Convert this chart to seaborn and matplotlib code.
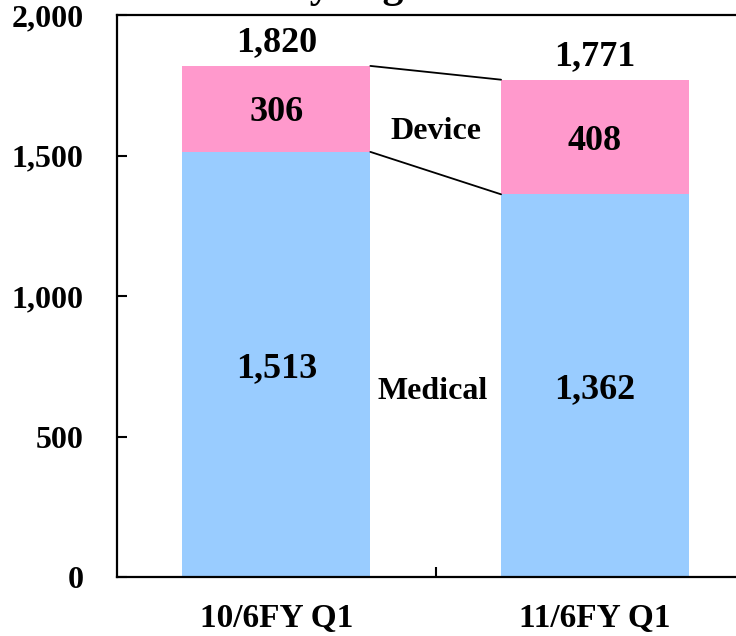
import matplotlib
matplotlib.use("Agg")
import matplotlib.pyplot as plt
import seaborn as sns
import pandas as pd

periods = ["10/6FY Q1", "11/6FY Q1"]
medical = [1513, 1362]
device = [306, 408]
totals = [1820, 1771]
yticks = [0, 500, 1000, 1500, 2000]

sns.set_style("ticks")
plt.rcParams["font.family"] = ["Liberation Serif", "DejaVu Serif"]
plt.rcParams["font.weight"] = "bold"
plt.rcParams["text.color"] = "black"
plt.rcParams["xtick.color"] = "black"
plt.rcParams["ytick.color"] = "black"
plt.rcParams["xtick.labelcolor"] = "black"
plt.rcParams["ytick.labelcolor"] = "black"

df = pd.DataFrame({"period": periods, "medical": medical, "device": device})

fig = plt.figure(figsize=(7.36, 6.36), dpi=100)
ax = fig.add_axes([0.159, 0.0928, 0.866, 0.8835])

bar_w = 0.59
sns.barplot(data=df, x="period", y="medical", color="#99CCFF", width=bar_w,
            saturation=1, ax=ax, linewidth=0)
sns.barplot(data=df, x="period", y="device", bottom=df["medical"], color="#FF99CC",
            width=bar_w, saturation=1, ax=ax, linewidth=0)

ax.set_xlim(-0.5, 1.5)
ax.set_ylim(0, 2000)
ax.set_xlabel("")
ax.set_ylabel("")

# connector lines between the stacked segments
half = bar_w / 2
ax.plot([0 + half, 1 - half], [medical[0] + device[0], medical[1] + device[1]],
        color="black", lw=1.3)
ax.plot([0 + half, 1 - half], [medical[0], medical[1]], color="black", lw=1.3)

lab_fs = 26
for i in range(len(periods)):
    ax.text(i, medical[i] / 2, f"{medical[i]:,}", ha="center", va="center_baseline",
            fontsize=lab_fs, fontweight="bold", color="black")
    ax.text(i, medical[i] + device[i] / 2, f"{device[i]:,}", ha="center",
            va="center_baseline", fontsize=lab_fs, fontweight="bold", color="black")
    ax.text(i, medical[i] + device[i] + 25, f"{totals[i]:,}", ha="center",
            va="bottom", fontsize=lab_fs, fontweight="bold", color="black")

ax.text(0.5, 1597, "Device", ha="center", va="center_baseline", fontsize=23,
        fontweight="bold", color="black")
ax.text(0.49, 672, "Medical", ha="center", va="center_baseline", fontsize=23,
        fontweight="bold", color="black")

# axes styling
for side in ["left", "bottom", "top", "right"]:
    ax.spines[side].set_visible(True)
    ax.spines[side].set_linewidth(1.6)
    ax.spines[side].set_color("black")

ax.set_yticks(yticks)
ax.set_yticklabels([f"{v:,}" for v in yticks])
ax.tick_params(axis="y", direction="in", length=7, width=1.5, pad=24,
               labelsize=23, left=True, right=False)
for t in ax.get_yticklabels():
    t.set_fontweight("bold")

ax.set_xticks([0.5])
ax.set_xticklabels([""])
ax.set_xticks([0, 1], minor=True)
ax.set_xticklabels(periods, minor=True)
ax.tick_params(axis="x", which="major", direction="in", length=7, width=1.5,
               top=False)
ax.tick_params(axis="x", which="minor", length=0, pad=19, labelsize=24)
for t in ax.get_xticklabels(minor=True):
    t.set_fontweight("bold")

fig.text(0.462, 1.004, "Sales by Segment", ha="center", va="baseline",
         fontsize=30, fontweight="bold", color="black")

fig.savefig("out.png", dpi=100)
